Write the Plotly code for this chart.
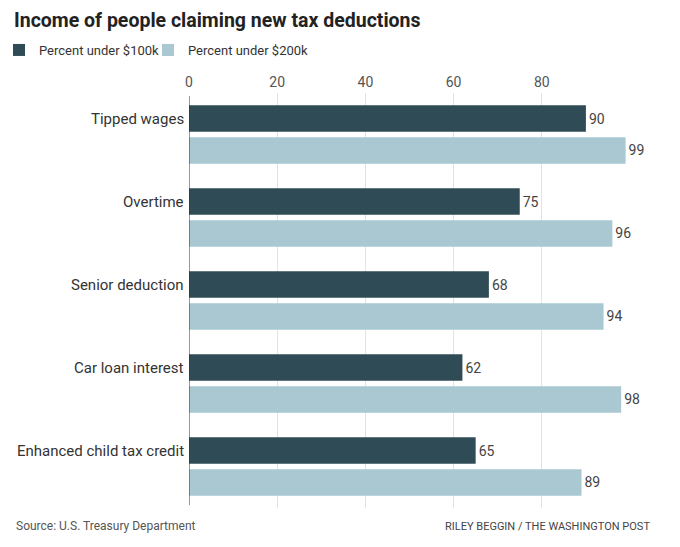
import plotly.graph_objects as go

categories = ["Tipped wages", "Overtime", "Senior deduction", "Car loan interest", "Enhanced child tax credit"]
under_100k = [90, 75, 68, 62, 65]
under_200k = [99, 96, 94, 98, 89]
tick_values = [0, 20, 40, 60, 80]

DARK = "#2f4b55"
LIGHT = "#a9c8d2"
FONT = "Roboto, Arial, sans-serif"
W, H = 680, 547
L, R, T, B = 181, 58, 85, 47
PW, PH = W - L - R, H - T - B

fig = go.Figure()
fig.add_trace(go.Bar(
    y=categories, x=under_100k, orientation="h", name="Percent under $100k",
    marker=dict(color=DARK, line=dict(width=0)), legend="legend",
    text=[str(v) for v in under_100k], textposition="outside", cliponaxis=False,
    textfont=dict(size=14, color="#444", family=FONT),
))
fig.add_trace(go.Bar(
    y=categories, x=under_200k, orientation="h", name="Percent under $200k",
    marker=dict(color=LIGHT, line=dict(width=0)), legend="legend2",
    text=[str(v) for v in under_200k], textposition="outside", cliponaxis=False,
    textfont=dict(size=14, color="#444", family=FONT),
))

for c in categories:
    fig.add_annotation(x=0, y=c, xref="x", yref="y", text=c, showarrow=False,
                       xanchor="right", xshift=-3, yshift=15.6,
                       font=dict(size=15, color="#333", family=FONT))

legend_common = dict(orientation="h", xref="paper", xanchor="left",
                     y=1 + (T - 27) / PH, yref="paper", yanchor="top",
                     font=dict(size=13, color="#333", family=FONT),
                     itemwidth=30, bgcolor="rgba(0,0,0,0)")

fig.update_layout(
    width=W, height=H,
    margin=dict(l=L, r=R, t=T, b=B, autoexpand=False),
    paper_bgcolor="white", plot_bgcolor="white",
    barmode="group", bargap=0.234, bargroupgap=0.167,
    font=dict(family=FONT, color="#333"),
    title=dict(text="<b>Income of people claiming new tax deductions</b>",
               x=6 / W, xref="container", xanchor="left",
               y=1 - 5 / H, yref="container", yanchor="top",
               font=dict(size=19.5, color="#222", family=FONT)),
    legend=dict(x=(-9 - L) / PW, **legend_common),
    legend2=dict(x=(140 - L) / PW, **legend_common),
    showlegend=True,
)
fig.update_xaxes(range=[0, 100], side="top", tickvals=tick_values,
                 showgrid=True, gridcolor="#e3e3e3", gridwidth=1,
                 zeroline=False, showline=False, ticks="",
                 tickfont=dict(size=14, color="#555", family=FONT), ticklabelstandoff=2)
fig.update_yaxes(autorange="reversed", showticklabels=False, ticks="",
                 showgrid=False, zeroline=False, showline=False)
fig.add_shape(type="line", xref="x", yref="paper", x0=0, x1=0, y0=0.007, y1=0.993,
              line=dict(color="#333", width=1))

fig.add_annotation(text="Source: U.S. Treasury Department", xref="paper", yref="paper",
                   x=(6 - L) / PW, y=-18 / PH, xanchor="left", yanchor="middle", showarrow=False,
                   font=dict(size=12, color="#555", family=FONT))
fig.add_annotation(text="RILEY BEGGIN / THE WASHINGTON POST", xref="paper", yref="paper",
                   x=(644 - L) / PW, y=-18 / PH, xanchor="right", yanchor="middle", showarrow=False,
                   font=dict(size=11, color="#444", family=FONT))

fig.write_html("out.html")
